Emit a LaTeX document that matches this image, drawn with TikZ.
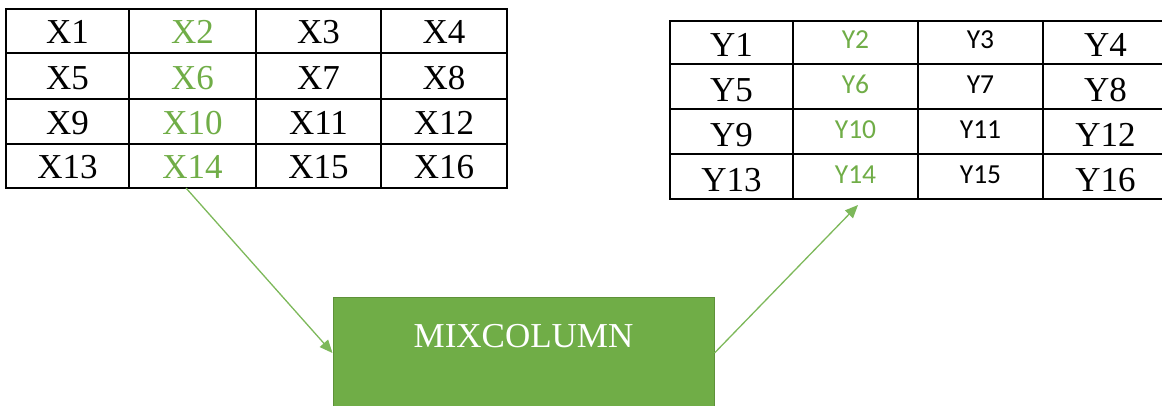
\documentclass[tikz,border=0pt]{standalone}
\usepackage{fontspec}
\setmainfont{Liberation Serif}
\newfontfamily\calfont{Carlito}
\usetikzlibrary{arrows.meta}
\definecolor{grn}{HTML}{70AD47}
\definecolor{grndark}{HTML}{5E9139}
\definecolor{arr}{HTML}{7DB85A}
\tikzset{
  grid/.style={line width=1.3pt, black},
  sertxt/.style={anchor=base, inner sep=0pt, font=\fontsize{35}{40}\selectfont},
  santxt/.style={anchor=base, inner sep=0pt, font=\calfont\fontsize{27.5}{32}\selectfont},
  conn/.style={draw=arr, line width=1.3pt, -{Triangle[length=13pt,width=11pt]}},
  mixbox/.style={draw=grndark, line width=1pt, fill=grn, minimum width=381pt, minimum height=112pt, inner sep=0pt}
}
\begin{document}
\begin{tikzpicture}[x=1pt,y=-1pt]
\useasboundingbox (0,0) rectangle (1162,405);
% left table grid
\draw[grid] (6,9) rectangle (507,188);
\foreach \xx in {129,256,381} \draw[grid] (\xx,9) -- (\xx,188);
\foreach \yy in {53,99,144} \draw[grid] (6,\yy) -- (507,\yy);
% left table text
\foreach \r/\b in {0/43,1/89,2/134,3/178} {
  \foreach \c/\cx in {1/67.5,2/192.5,3/318.5,4/444} {
    \pgfmathtruncatemacro{\n}{4*\r+\c}
    \ifnum\c=2
      \node[sertxt, text=grn] (x\n) at (\cx,\b) {X\n};
    \else
      \node[sertxt] (x\n) at (\cx,\b) {X\n};
    \fi
  }
}
% right table grid
\draw[grid] (670,21) rectangle (1170,199);
\foreach \xx in {793,918,1043} \draw[grid] (\xx,21) -- (\xx,199);
\foreach \yy in {64,109,154} \draw[grid] (670,\yy) -- (1170,\yy);
% right table text
\foreach \r/\bot in {0/64,1/109,2/154,3/199} {
  \pgfmathsetmacro{\bs}{\bot-8}
  \pgfmathsetmacro{\bc}{\bot-15.5}
  \pgfmathtruncatemacro{\na}{4*\r+1}
  \pgfmathtruncatemacro{\nb}{4*\r+2}
  \pgfmathtruncatemacro{\nc}{4*\r+3}
  \pgfmathtruncatemacro{\nd}{4*\r+4}
  \node[sertxt] (y\na) at (731.5,\bs) {Y\na};
  \node[santxt, text=grn] (y\nb) at (855.5,\bc) {Y\nb};
  \node[santxt] (y\nc) at (980.5,\bc) {Y\nc};
  \node[sertxt] (y\nd) at (1105.5,\bs) {Y\nd};
}
% mix column box (runs off the bottom edge)
\node[mixbox] (mix) at (523.5,353) {};
\node[sertxt, text=white] (mixtxt) at (523.5,347) {MIXCOLUMN};
% connectors
\coordinate (from) at (186,188);
\coordinate (to) at (858,205);
\draw[conn] (from) -- (mix.west);
\draw[conn] (mix.east) -- (to);
\end{tikzpicture}
\end{document}
